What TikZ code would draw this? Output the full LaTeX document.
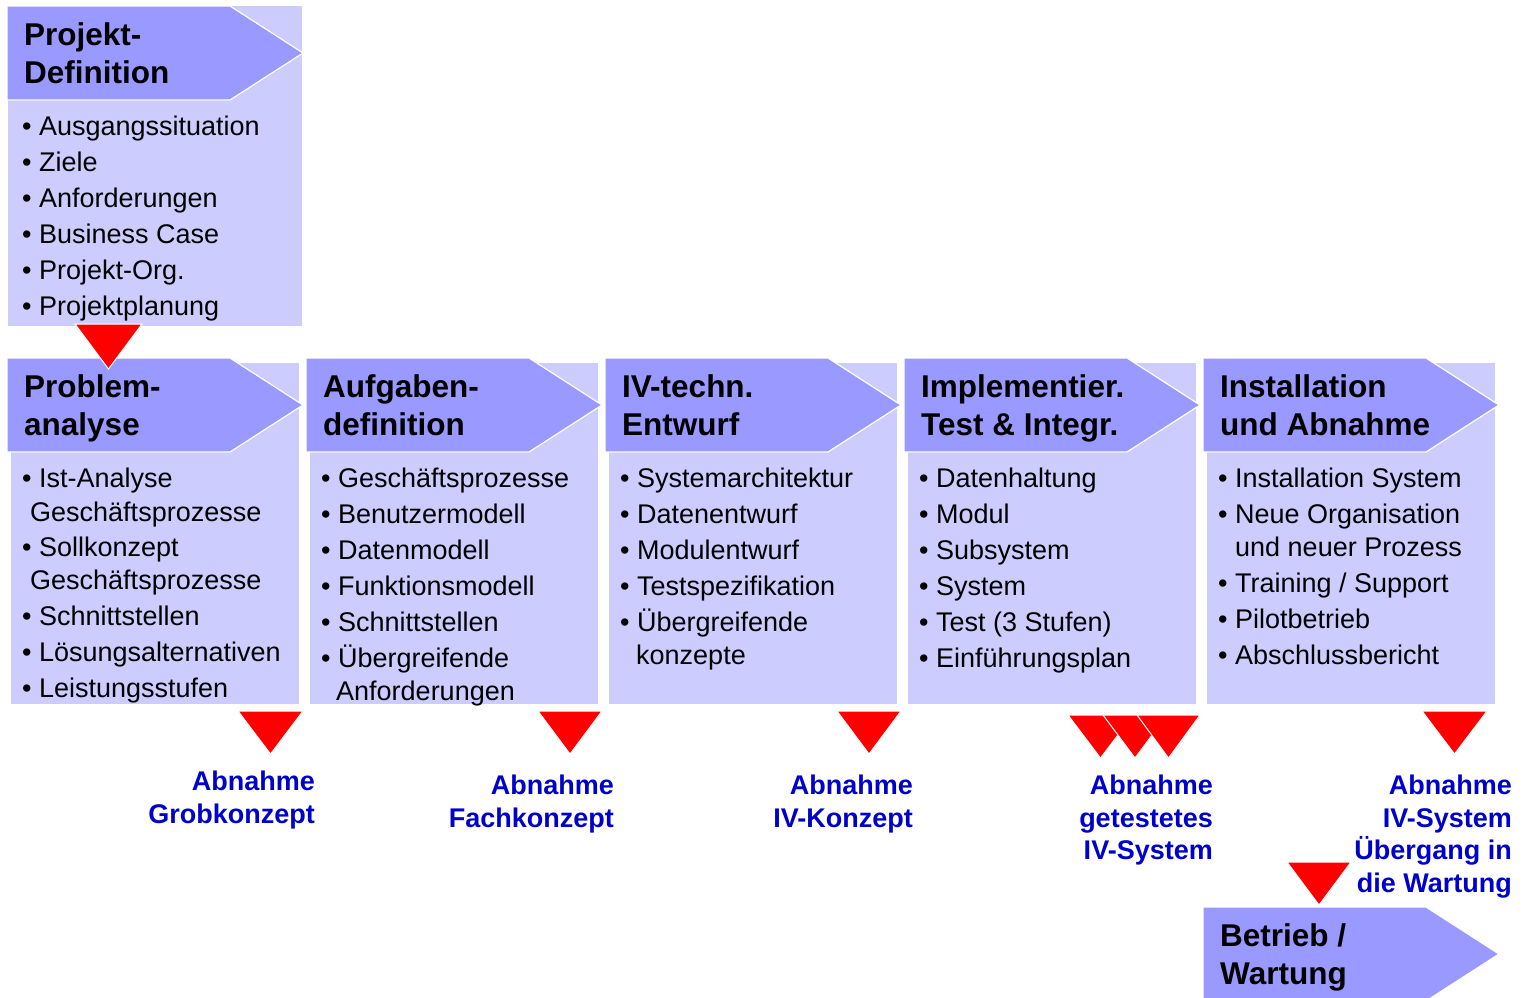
\documentclass[tikz,border=0pt]{standalone}
\usepackage{fontspec}
\setmainfont{Liberation Sans}
\definecolor{hdr}{HTML}{9999FF}
\definecolor{lite}{HTML}{CCCCFF}
\definecolor{mred}{HTML}{FF0000}
\definecolor{mblue}{HTML}{0000CC}
\newcounter{lnc}
\tikzset{
  btxt/.style={anchor=base west, inner sep=0pt, font=\fontsize{27}{33}\selectfont},
  ltxt/.style={anchor=base east, inner sep=0pt, text=mblue, font=\fontsize{27}{33}\selectfont\bfseries},
  htxt/.style={anchor=base west, inner sep=0pt, font=\fontsize{31.5}{38}\selectfont\bfseries},
  headshape/.style={fill=hdr, draw=white, line width=1.2pt, line join=miter},
  litebox/.style={fill=lite},
  redtri/.style={fill=mred, draw=white, line width=1pt},
}
\newcommand\bline[3]{\stepcounter{lnc}\node[btxt] (b\arabic{lnc}) at (#1,#2) {#3};}
\newcommand\blab[3]{\stepcounter{lnc}\node[ltxt] (l\arabic{lnc}) at (#1,#2) {#3};}
\newcommand\phasehead[5]{%
  \fill[headshape] (#1,#2) -- ++(223,0) -- ++(73,47) -- ++(-73,47) -- ++(-223,0) -- cycle;
  \node[htxt] (#3a) at (#1+17,#2+39) {#4};
  \node[htxt] (#3b) at (#1+17,#2+77) {#5};
}
\newcommand\phasebox[1]{\fill[litebox] (#1+4,363) rectangle (#1+292,704);}
\newcommand\redtriangle[4]{\filldraw[redtri] (#1,#3) -- (#2,#3) -- ({(#1+#2)/2},#4) -- cycle;}
\begin{document}
\begin{tikzpicture}[x=1pt,y=-1pt]
\clip (0,0) rectangle (1525,997);
\fill[white] (0,0) rectangle (1525,997);
% light boxes
\fill[litebox] (8,6) rectangle (302,326);
\phasebox{7}
\phasebox{306}
\phasebox{605}
\phasebox{904}
\phasebox{1203}
% headers
\phasehead{7}{6}{pd}{Projekt-}{Definition}
\phasehead{7}{358}{pa}{Problem-}{analyse}
\phasehead{306}{358}{ad}{Aufgaben-}{definition}
\phasehead{605}{358}{ie}{IV-techn.}{Entwurf}
\phasehead{904}{358}{it}{Implementier.}{Test \& Integr.}
\phasehead{1203}{358}{ia}{Installation}{und Abnahme}
\phasehead{1203}{907}{bw}{Betrieb /}{Wartung}
% top box bullets
\bline{22}{135}{• Ausgangssituation}
\bline{22}{171}{• Ziele}
\bline{22}{207}{• Anforderungen}
\bline{22}{243}{• Business Case}
\bline{22}{279}{• Projekt-Org.}
\bline{22}{315}{• Projektplanung}
% column 1
\bline{22}{487}{• Ist-Analyse}
\bline{30}{521}{Geschäftsprozesse}
\bline{22}{556}{• Sollkonzept}
\bline{30}{589}{Geschäftsprozesse}
\bline{22}{625}{• Schnittstellen}
\bline{22}{661}{• Lösungsalternativen}
\bline{22}{697}{• Leistungsstufen}
% column 2
\bline{321}{487}{• Geschäftsprozesse}
\bline{321}{523}{• Benutzermodell}
\bline{321}{559}{• Datenmodell}
\bline{321}{595}{• Funktionsmodell}
\bline{321}{631}{• Schnittstellen}
\bline{321}{667}{• Übergreifende}
\bline{336}{700}{Anforderungen}
% column 3
\bline{620}{487}{• Systemarchitektur}
\bline{620}{523}{• Datenentwurf}
\bline{620}{559}{• Modulentwurf}
\bline{620}{595}{• Testspezifikation}
\bline{620}{631}{• Übergreifende}
\bline{636}{664}{konzepte}
% column 4
\bline{919}{487}{• Datenhaltung}
\bline{919}{523}{• Modul}
\bline{919}{559}{• Subsystem}
\bline{919}{595}{• System}
\bline{919}{631}{• Test (3 Stufen)}
\bline{919}{667}{• Einführungsplan}
% column 5
\bline{1218}{487}{• Installation System}
\bline{1218}{523}{• Neue Organisation}
\bline{1235}{556}{und neuer Prozess}
\bline{1218}{592}{• Training / Support}
\bline{1218}{628}{• Pilotbetrieb}
\bline{1218}{664}{• Abschlussbericht}
% red markers
\redtriangle{75}{142}{324}{369}
\redtriangle{238}{303}{711}{754}
\redtriangle{538}{602}{711}{754}
\redtriangle{837}{901}{711}{754}
\redtriangle{1068}{1133}{715}{758}
\redtriangle{1103}{1167}{715}{758}
\redtriangle{1137}{1200}{715}{758}
\redtriangle{1422}{1487}{711}{754}
\redtriangle{1287}{1351}{862}{905}
% blue labels
\blab{315}{790}{Abnahme}
\blab{315}{823}{Grobkonzept}
\blab{614}{794}{Abnahme}
\blab{614}{827}{Fachkonzept}
\blab{913}{794}{Abnahme}
\blab{913}{827}{IV-Konzept}
\blab{1213}{794}{Abnahme}
\blab{1213}{827}{getestetes}
\blab{1213}{859}{IV-System}
\blab{1512}{794}{Abnahme}
\blab{1512}{827}{IV-System}
\blab{1512}{859}{Übergang in}
\blab{1512}{892}{die Wartung}
\end{tikzpicture}
\end{document}
